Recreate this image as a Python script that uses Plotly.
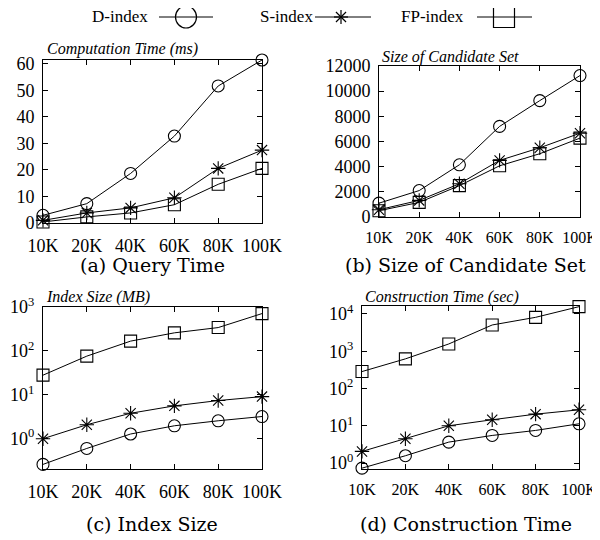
import plotly.graph_objects as go

# ---------------- data ----------------
sizes = ["10K", "20K", "40K", "60K", "80K", "100K"]
series_names = ["D-index", "S-index", "FP-index"]

# (a) Query Time: computation time (ms)
qt_d = [2.9, 7.3, 18.7, 32.8, 51.7, 61.5]
qt_s = [1.0, 3.8, 5.7, 9.5, 20.6, 27.5]
qt_fp = [0.4, 2.3, 3.8, 6.9, 14.6, 20.6]

# (b) Size of candidate set
cs_d = [1100, 2100, 4150, 7200, 9250, 11240]
cs_s = [580, 1320, 2640, 4500, 5500, 6660]
cs_fp = [500, 1160, 2490, 4070, 5030, 6270]

# (c) Index size (MB)
is_d = [0.26, 0.60, 1.28, 1.97, 2.56, 3.2]
is_s = [1.0, 2.08, 3.8, 5.6, 7.4, 9.1]
is_fp = [28, 76, 167, 258, 340, 708]

# (d) Construction time (sec)
ct_d = [0.73, 1.57, 3.65, 5.5, 7.5, 11.3]
ct_s = [2.05, 4.5, 10, 14.5, 20.5, 26.8]
ct_fp = [285, 624, 1570, 5070, 8130, 15700]

lin_a_ticks = [0, 10, 20, 30, 40, 50, 60]
lin_b_ticks = [0, 2000, 4000, 6000, 8000, 10000, 12000]
log_c_ticks = [1, 10, 100, 1000]
log_d_ticks = [1, 10, 100, 1000, 10000]

# page is 600x540; the page body has an 8px margin, so the figure is
# 592x532 and all layout positions below are given in page pixels.
OFF = 8
W, H = 600 - OFF, 540 - OFF
FONT = "Liberation Serif"
CAPFONT = "DejaVu Serif"


def px(x):
    return (x - OFF) / W


def py(y):
    return 1 - (y - OFF) / H


symbols = ["circle-open", "asterisk-open", "square-open"]
msize = [12, 12, 12]

panels = [
    dict(data=[qt_d, qt_s, qt_fp], xd=(43, 262), yd=(223, 60), ylog=False,
         yrange=[0, 61.5], ticks=lin_a_ticks, title="Computation Time (ms)",
         tpos=(45, 49), cap="(a) Query Time", cpos=(152, 265), xfs=18),
    dict(data=[cs_d, cs_s, cs_fp], xd=(379, 580), yd=(217, 66), ylog=False,
         yrange=[0, 12000], ticks=lin_b_ticks, title="Size of Candidate Set",
         tpos=(380, 57), cap="(b) Size of Candidate Set", cpos=(465, 265), xfs=16),
    dict(data=[is_d, is_s, is_fp], xd=(43, 262), yd=(469, 307), ylog=True,
         yrange=[-0.69, 3.0], ticks=log_c_ticks, title="Index Size (MB)",
         tpos=(44, 297), cap="(c) Index Size", cpos=(152, 524), xfs=18),
    dict(data=[ct_d, ct_s, ct_fp], xd=(362, 579), yd=(469, 306), ylog=True,
         yrange=[-0.16, 4.214], ticks=log_d_ticks, title="Construction Time (sec)",
         tpos=(363, 297), cap="(d) Construction Time", cpos=(466, 524), xfs=16),
]

fig = go.Figure()
annotations = []
layout_axes = {}

for i, p in enumerate(panels, start=1):
    xa = "x" if i == 1 else f"x{i}"
    ya = "y" if i == 1 else f"y{i}"
    for k, vals in enumerate(p["data"]):
        fig.add_trace(go.Scatter(
            x=sizes, y=vals, xaxis=xa, yaxis=ya, mode="lines+markers",
            name=series_names[k], cliponaxis=False,
            line=dict(color="black", width=1),
            marker=dict(symbol=symbols[k], size=msize[k], color="black",
                        line=dict(color="black", width=1.1)),
            showlegend=False,
        ))
    xkey = "xaxis" if i == 1 else f"xaxis{i}"
    ykey = "yaxis" if i == 1 else f"yaxis{i}"
    common = dict(showline=True, linecolor="black", linewidth=1, mirror="allticks",
                  ticks="inside", ticklen=5, tickcolor="black", tickwidth=1,
                  showgrid=False, zeroline=False, automargin=False)
    layout_axes[xkey] = dict(domain=[px(p["xd"][0]), px(p["xd"][1])],
                             anchor=ya, type="category", range=[0, 5],
                             ticklabelstandoff=6,
                             tickfont=dict(family=FONT, size=p["xfs"], color="black"),
                             **common)
    yfont = dict(family=FONT, size=18, color="black")
    if p["ylog"]:
        ytext = [f"10<sup>{len(str(t)) - 1}</sup>" for t in p["ticks"]]
        layout_axes[ykey] = dict(domain=[py(p["yd"][0]), py(p["yd"][1])],
                                 anchor=xa, type="log", range=p["yrange"],
                                 tickvals=p["ticks"], ticktext=ytext,
                                 ticklabelstandoff=4, tickfont=yfont, **common)
    else:
        layout_axes[ykey] = dict(domain=[py(p["yd"][0]), py(p["yd"][1])],
                                 anchor=xa, type="linear", range=p["yrange"],
                                 tickvals=p["ticks"], tickformat="d",
                                 ticklabelstandoff=4, tickfont=yfont, **common)
    annotations.append(dict(text="<i>" + p["title"] + "</i>", xref="paper", yref="paper",
                            x=px(p["tpos"][0]), y=py(p["tpos"][1]),
                            xanchor="left", yanchor="middle", showarrow=False,
                            font=dict(family=FONT, size=16, color="black")))
    annotations.append(dict(text=p["cap"], xref="paper", yref="paper",
                            x=px(p["cpos"][0]), y=py(p["cpos"][1]),
                            xanchor="center", yanchor="middle", showarrow=False,
                            font=dict(family=CAPFONT, size=19, color="black")))

# ---------------- custom legend (text left of sample) ----------------
LEG_Y = 17
leg_text_right = [150, 315, 466]
leg_lines = [(159, 213), (315, 371), (477, 532)]
leg_mk = [186, 341, 504]
shapes = []
for k in range(3):
    annotations.append(dict(text=series_names[k], xref="paper", yref="paper",
                            x=px(leg_text_right[k]), y=py(LEG_Y), xanchor="right",
                            yanchor="middle", showarrow=False,
                            font=dict(family=FONT, size=17, color="black")))
    shapes.append(dict(type="line", xref="paper", yref="paper",
                       x0=px(leg_lines[k][0]), x1=px(leg_lines[k][1]),
                       y0=py(LEG_Y), y1=py(LEG_Y),
                       line=dict(color="black", width=1)))
cx = leg_mk[0]
shapes.append(dict(type="circle", xref="paper", yref="paper",
                   x0=px(cx - 10.5), x1=px(cx + 10.5), y0=py(LEG_Y - 11), y1=py(LEG_Y + 11),
                   line=dict(color="black", width=1.2)))
sx = leg_mk[1]
r = 7
for (dx, dy) in [(r, 0), (0, r), (r * 0.72, r * 0.72), (r * 0.72, -r * 0.72)]:
    shapes.append(dict(type="line", xref="paper", yref="paper",
                       x0=px(sx - dx), x1=px(sx + dx), y0=py(LEG_Y - dy), y1=py(LEG_Y + dy),
                       line=dict(color="black", width=1.2)))
qx = leg_mk[2]
shapes.append(dict(type="rect", xref="paper", yref="paper",
                   x0=px(qx - 10.5), x1=px(qx + 10.5), y0=py(LEG_Y - 10.5), y1=py(LEG_Y + 10.5),
                   line=dict(color="black", width=1.2)))

fig.update_layout(**layout_axes)
fig.update_layout(
    width=W, height=H, margin=dict(l=0, r=0, t=0, b=0, pad=0, autoexpand=False),
    paper_bgcolor="white", plot_bgcolor="white",
    showlegend=False, annotations=annotations, shapes=shapes,
    font=dict(family=FONT, color="black"),
)

fig.write_html("out.html")
